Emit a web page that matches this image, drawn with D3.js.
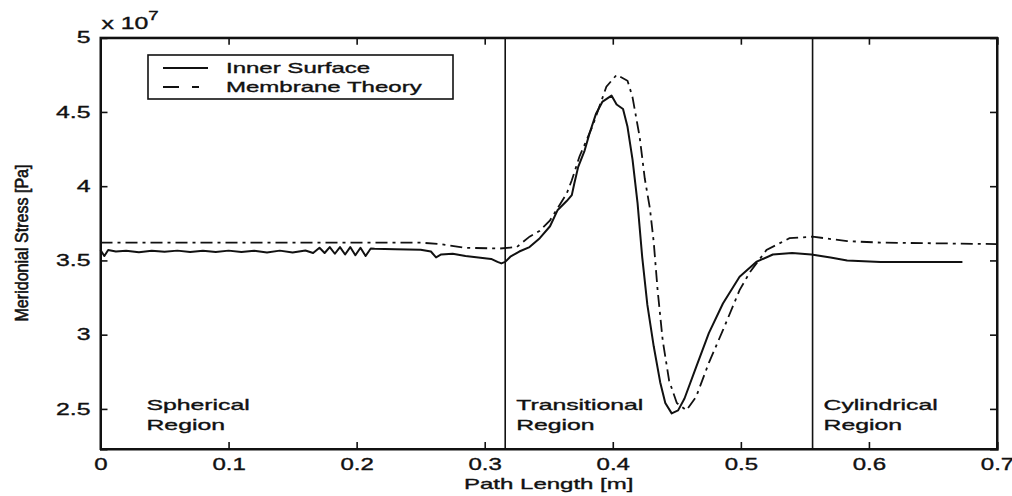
<!DOCTYPE html>
<html>
<head>
<meta charset="utf-8">
<script src="https://cdn.jsdelivr.net/npm/d3@7"></script>
<style>
  body { margin: 0; background: #fff; }
  svg { display: block; }
  text { font-family: "Liberation Sans", Arial, sans-serif; fill: #111; stroke: #111; stroke-width: 0.35px; }
</style>
</head>
<body>
<div id="chart"></div>
<script>
// values in units of 1e7 Pa
var innerSurface = [
  [0, 3.57], [0.003, 3.53], [0.006, 3.57], [0.012, 3.56], [0.02, 3.565], [0.03, 3.555],
  [0.04, 3.565], [0.05, 3.558], [0.06, 3.566], [0.07, 3.556], [0.08, 3.565], [0.09, 3.557],
  [0.10, 3.566], [0.11, 3.556], [0.12, 3.565], [0.13, 3.554], [0.14, 3.566], [0.15, 3.553],
  [0.16, 3.567], [0.166, 3.55], [0.171, 3.585], [0.175, 3.55], [0.179, 3.59], [0.183, 3.545],
  [0.187, 3.59], [0.191, 3.54], [0.195, 3.59], [0.199, 3.535], [0.203, 3.585], [0.207, 3.53],
  [0.211, 3.58], [0.214, 3.578], [0.23, 3.575], [0.25, 3.572], [0.258, 3.56], [0.262, 3.52],
  [0.266, 3.54], [0.275, 3.545], [0.285, 3.53], [0.295, 3.52], [0.305, 3.51], [0.310, 3.49],
  [0.313, 3.48], [0.316, 3.49], [0.320, 3.525], [0.327, 3.56], [0.335, 3.59], [0.343, 3.65],
  [0.351, 3.73], [0.357, 3.84], [0.364, 3.90], [0.368, 3.94], [0.370, 4.02], [0.373, 4.13],
  [0.378, 4.24], [0.382, 4.36], [0.387, 4.49], [0.392, 4.57], [0.399, 4.61], [0.403, 4.55],
  [0.408, 4.52], [0.4115, 4.40], [0.4154, 4.18], [0.4193, 3.89], [0.423, 3.52], [0.427, 3.20],
  [0.432, 2.92], [0.437, 2.68], [0.441, 2.54], [0.446, 2.47], [0.451, 2.49], [0.456, 2.57],
  [0.465, 2.78], [0.475, 3.01], [0.486, 3.21], [0.499, 3.39], [0.512, 3.49], [0.525, 3.54],
  [0.540, 3.55], [0.555, 3.54], [0.570, 3.52], [0.583, 3.50], [0.609, 3.49], [0.673, 3.49]
];

var membraneTheory = [
  [0, 3.62], [0.25, 3.62], [0.265, 3.61], [0.285, 3.585], [0.3118, 3.58], [0.325, 3.59],
  [0.335, 3.66], [0.343, 3.70], [0.351, 3.77], [0.364, 3.95], [0.368, 4.04], [0.374, 4.20],
  [0.384, 4.40], [0.395, 4.67], [0.403, 4.75], [0.4115, 4.71], [0.4154, 4.60], [0.421, 4.33],
  [0.425, 4.05], [0.429, 3.85], [0.432, 3.62], [0.435, 3.30], [0.439, 2.96], [0.444, 2.69],
  [0.450, 2.54], [0.4575, 2.49], [0.465, 2.58], [0.475, 2.81], [0.486, 3.03], [0.499, 3.30],
  [0.507, 3.42], [0.520, 3.57], [0.538, 3.65], [0.556, 3.66], [0.583, 3.63], [0.609, 3.62],
  [0.7, 3.61]
];

var seriesNames = ['Inner Surface', 'Membrane Theory'];
var regionStarts = [0, 0.316, 0.556];
var regionNames = ['Spherical', 'Transitional', 'Cylindrical'];
var xTicks = [0, 0.1, 0.2, 0.3, 0.4, 0.5, 0.6, 0.7];
var yTicks = [2.5, 3, 3.5, 4, 4.5, 5];

(function() {
  var width = 1012, height = 496;
  var pLeft = 100.5, pRight = 997, pTop = 37.7, pBottom = 449;

  var svg = d3.select('#chart').append('svg')
      .attr('width', width)
      .attr('height', height);

  var x = d3.scaleLinear().domain([0, 0.7]).range([pLeft, pRight]);
  var y = d3.scaleLinear().domain([2.23, 5]).range([pBottom, pTop]);

  // the scanned font is very wide, so stretch text horizontally
  function widen(sel, k) {
    sel.each(function() {
      var w = this.getComputedTextLength();
      d3.select(this).attr('textLength', w * k).attr('lengthAdjust', 'spacingAndGlyphs');
    });
  }

  var fmt = function(d) { return d === 0 ? '0' : d3.format('.1f')(d); };

  // axes with inward ticks on all four sides
  var gx = svg.append('g')
      .attr('transform', 'translate(0,' + pBottom + ')')
      .call(d3.axisBottom(x).tickValues(xTicks).tickSize(-7).tickPadding(10).tickFormat(fmt));
  var gy = svg.append('g')
      .attr('transform', 'translate(' + pLeft + ',0)')
      .call(d3.axisLeft(y).tickValues(yTicks).tickSize(-7).tickPadding(10).tickFormat(d3.format('')));
  svg.append('g')
      .attr('transform', 'translate(0,' + pTop + ')')
      .call(d3.axisTop(x).tickValues(xTicks).tickSize(-7).tickFormat(''));
  svg.append('g')
      .attr('transform', 'translate(' + pRight + ',0)')
      .call(d3.axisRight(y).tickValues(yTicks).tickSize(-7).tickFormat(''));

  svg.selectAll('.domain').attr('stroke', '#111').attr('stroke-width', 2);
  svg.selectAll('.tick line').attr('stroke', '#111').attr('stroke-width', 1.6);
  svg.selectAll('.tick text').style('font-size', '16px').attr('fill', '#111');
  widen(gx.selectAll('.tick text'), 1.5);
  widen(gy.selectAll('.tick text'), 1.55);

  svg.append('rect')
      .attr('x', pLeft).attr('y', pTop)
      .attr('width', pRight - pLeft).attr('height', pBottom - pTop)
      .attr('fill', 'none').attr('stroke', '#111').attr('stroke-width', 2);

  // x 10^7 multiplier
  var mult = svg.append('text').attr('x', pLeft + 1).attr('y', 29).style('font-size', '16px');
  mult.append('tspan').text('x 10');
  mult.append('tspan').attr('dy', -9).style('font-size', '12px').text('7');
  widen(mult.selectAll('tspan'), 1.55);

  // region boundaries
  svg.selectAll('.boundary')
      .data(regionStarts.slice(1))
    .enter().append('line')
      .attr('x1', function(d) { return x(d); })
      .attr('x2', function(d) { return x(d); })
      .attr('y1', pTop).attr('y2', pBottom)
      .attr('stroke', '#111').attr('stroke-width', 1.6);

  // region labels
  var labelX = function(d, i) { return x(regionStarts[i]) + (i === 0 ? 46 : 11); };
  var regionLabel = svg.selectAll('.region')
      .data(regionNames)
    .enter().append('text')
      .attr('class', 'region')
      .style('font-size', '15px');
  regionLabel.append('tspan')
      .attr('x', labelX)
      .attr('y', 410)
      .text(function(d) { return d; });
  regionLabel.append('tspan')
      .attr('x', labelX)
      .attr('y', 430)
      .text('Region');
  widen(regionLabel.selectAll('tspan'), 1.65);

  var line = d3.line()
      .x(function(d) { return x(d[0]); })
      .y(function(d) { return y(d[1]); });

  svg.append('path')
      .datum(membraneTheory)
      .attr('fill', 'none')
      .attr('stroke', '#111')
      .attr('stroke-width', 1.8)
      .attr('stroke-dasharray', '12,5,3,5')
      .attr('d', line);

  svg.append('path')
      .datum(innerSurface)
      .attr('fill', 'none')
      .attr('stroke', '#111')
      .attr('stroke-width', 2)
      .attr('stroke-linejoin', 'round')
      .attr('d', line);

  // legend
  var legend = svg.append('g');
  legend.append('rect')
      .attr('x', 148).attr('y', 55)
      .attr('width', 305).attr('height', 44)
      .attr('fill', '#fff').attr('stroke', '#111').attr('stroke-width', 1.6);
  legend.selectAll('.key')
      .data(seriesNames)
    .enter().append('line')
      .attr('x1', 163).attr('x2', 208)
      .attr('y1', function(d, i) { return 68 + i * 19; })
      .attr('y2', function(d, i) { return 68 + i * 19; })
      .attr('stroke', '#111')
      .attr('stroke-width', 1.8)
      .attr('stroke-dasharray', function(d, i) { return i === 0 ? null : '16,13,7,40'; });
  var legendText = legend.selectAll('.label')
      .data(seriesNames)
    .enter().append('text')
      .attr('x', 226)
      .attr('y', function(d, i) { return 73 + i * 19; })
      .style('font-size', '15px')
      .text(function(d) { return d; });
  widen(legendText, 1.6);

  // axis titles
  var xTitle = svg.append('text')
      .attr('x', (pLeft + pRight) / 2)
      .attr('y', 489)
      .attr('text-anchor', 'middle')
      .style('font-size', '15px')
      .text('Path Length [m]');
  widen(xTitle, 1.6);

  svg.append('text')
      .attr('transform', 'translate(28,243) rotate(-90)')
      .attr('text-anchor', 'middle')
      .style('font-size', '18px')
      .style('stroke-width', '0.6px')
      .attr('textLength', 157)
      .attr('lengthAdjust', 'spacingAndGlyphs')
      .text('Meridonial Stress [Pa]');
})();
</script>
</body>
</html>
